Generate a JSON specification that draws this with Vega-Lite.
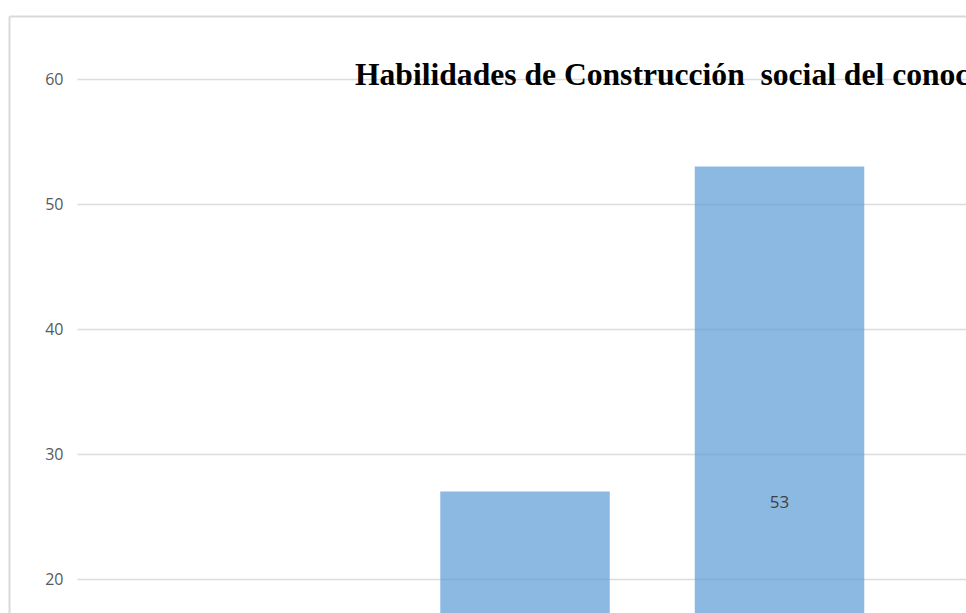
{
  "$schema": "https://vega.github.io/schema/vega-lite/v6.json",
  "autosize": "none",
  "width": 957,
  "height": 597,
  "padding": {"left": 9, "top": 16, "right": 0, "bottom": 0},
  "background": "white",
  "config": {"view": {"stroke": null}},
  "title": {
    "text": "Habilidades de Construcción\u00a0 social del conocimiento",
    "anchor": "start",
    "frame": "group",
    "orient": "top",
    "offset": 0,
    "dx": 346,
    "dy": 76,
    "font": "Liberation Serif",
    "fontSize": 31.6,
    "fontWeight": "bold",
    "color": "#000000"
  },
  "data": {
    "values": [
      {"nivel": "Medio", "valor": 27},
      {"nivel": "Alto", "valor": 53}
    ]
  },
  "transform": [{"calculate": "datum.valor / 2", "as": "mitad"}],
  "encoding": {
    "x": {
      "field": "nivel",
      "type": "nominal",
      "sort": null,
      "scale": {"domain": ["Bajo", "Medio", "Alto"], "paddingInner": 0.334, "paddingOuter": 0.5472, "align": 0.6347},
      "axis": {"orient": "top", "labels": false, "ticks": false, "title": null, "domain": true, "domainColor": "#d9d9d9", "domainWidth": 2, "grid": false}
    }
  },
  "layer": [
    {
      "mark": {"type": "bar", "color": "#5B9BD5", "opacity": 0.7, "clip": true},
      "encoding": {
        "y": {
          "field": "valor",
          "type": "quantitative",
          "scale": {"domain": [17.28, 65.04], "nice": false, "zero": false},
          "axis": {
            "orient": "left",
            "values": [20, 30, 40, 50, 60],
            "title": null,
            "domain": true,
            "domainColor": "#d9d9d9",
            "domainWidth": 2,
            "ticks": false,
            "tickSize": 0,
            "grid": true,
            "gridColor": "#dcdcdc",
            "gridWidth": 1.5,
            "gridDash": [0, 68, 2000, 0],
            "labelPadding": -54,
            "labelAlign": "right",
            "labelFont": "Open Sans",
            "labelFontSize": 16,
            "labelColor": "#595959"
          }
        }
      }
    },
    {
      "mark": {"type": "text", "clip": true, "font": "Open Sans", "fontSize": 17, "color": "#404040", "baseline": "middle", "dy": 5},
      "encoding": {
        "y": {"field": "mitad", "type": "quantitative"},
        "text": {"field": "valor", "type": "quantitative"}
      }
    }
  ]
}
